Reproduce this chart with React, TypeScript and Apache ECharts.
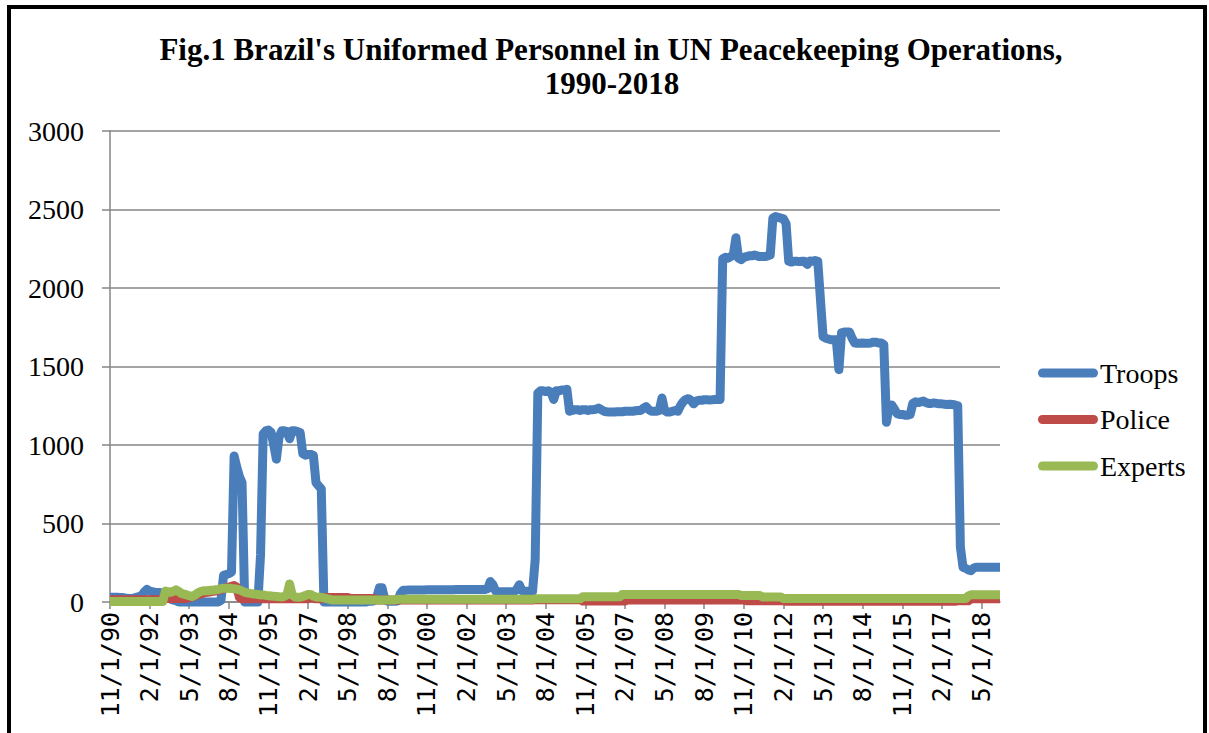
import React, { useEffect, useRef } from "react";
import * as echarts from "echarts";

// Monthly categories: 11/1/90 ... 12/1/18 (338 months)
const START_YEAR = 1990;
const START_MONTH = 11;
const MONTH_COUNT = 338;
const categories: string[] = [];
for (let i = 0; i < MONTH_COUNT; i++) {
  const k = START_MONTH - 1 + i;
  const m = (k % 12) + 1;
  const y = START_YEAR + Math.floor(k / 12);
  categories.push(`${m}/1/${String(y % 100).padStart(2, "0")}`);
}

const yTicks = { min: 0, max: 3000, interval: 500 };

const troops = [
  30, 30, 30, 30, 28, 28, 25, 22, 22, 25,
  30, 35, 40, 65, 80, 70, 65, 62, 60, 60,
  45, 35, 25, 18, 12, 8, 0, 0, 0, 0,
  0, 0, 0, 0, 0, 0, 0, 0, 0, 0,
  0, 0, 10, 170, 175, 180, 190, 930, 860, 800,
  760, 0, 0, 0, 0, 0, 0, 300, 1070, 1090,
  1095, 1080, 1000, 910, 1050, 1090, 1090, 1085, 1040, 1090,
  1090, 1085, 1080, 945, 935, 940, 940, 935, 760, 740,
  720, 0, 0, 0, 0, 0, 0, 0, 0, 0,
  0, 0, 0, 0, 0, 0, 0, 0, 5, 5,
  8, 30, 90, 90, 20, 5, 5, 5, 5, 8,
  55, 75, 75, 76, 76, 76, 77, 77, 77, 77,
  78, 78, 78, 78, 78, 78, 78, 78, 78, 78,
  78, 79, 79, 79, 79, 79, 79, 80, 80, 80,
  80, 80, 80, 85, 130, 110, 70, 66, 66, 66,
  66, 66, 66, 66, 80, 110, 72, 68, 68, 68,
  68, 270, 1330, 1345, 1345, 1340, 1345, 1335, 1290, 1345,
  1345, 1350, 1350, 1355, 1215, 1220, 1225, 1225, 1220, 1225,
  1225, 1220, 1225, 1225, 1228, 1235, 1225, 1215, 1212, 1210,
  1210, 1210, 1212, 1212, 1212, 1215, 1215, 1215, 1215, 1218,
  1220, 1220, 1235, 1245, 1225, 1215, 1215, 1215, 1220, 1300,
  1220, 1210, 1210, 1215, 1220, 1215, 1250, 1275, 1290, 1295,
  1285, 1262, 1280, 1285, 1285, 1288, 1288, 1287, 1288, 1290,
  1290, 1290, 2185, 2195, 2190, 2200, 2210, 2320, 2190, 2180,
  2195, 2200, 2205, 2205, 2210, 2205, 2200, 2200, 2200, 2205,
  2210, 2445, 2455, 2450, 2445, 2440, 2410, 2170, 2165, 2170,
  2170, 2168, 2170, 2170, 2150, 2172, 2170, 2175, 2170, 1930,
  1690, 1680, 1675, 1670, 1670, 1670, 1480, 1715, 1720, 1720,
  1720, 1680, 1650, 1648, 1648, 1650, 1648, 1648, 1650, 1655,
  1655, 1650, 1650, 1640, 1145, 1240, 1255, 1230, 1200, 1195,
  1195, 1190, 1190, 1195, 1265, 1275, 1270, 1275, 1280, 1270,
  1265, 1265, 1268, 1265, 1262, 1262, 1260, 1258, 1260, 1258,
  1255, 1250, 350, 220, 215, 205, 200, 215, 222, 222,
  222, 222, 222, 222, 222, 222, 222, 222,
];

const police = [
  15, 15, 15, 15, 15, 15, 15, 15, 15, 15,
  15, 15, 15, 15, 15, 15, 15, 15, 15, 15,
  22, 22, 22, 22, 22, 22, 22, 22, 22, 22,
  28, 32, 38, 45, 50, 55, 60, 62, 65, 68,
  70, 75, 80, 85, 90, 95, 100, 105, 95, 30,
  20, 20, 20, 20, 20, 20, 20, 20, 20, 20,
  20, 20, 20, 20, 20, 20, 20, 20, 20, 20,
  20, 20, 20, 20, 20, 20, 35, 25, 20, 20,
  20, 28, 28, 28, 28, 28, 28, 28, 28, 28,
  28, 22, 22, 22, 22, 22, 22, 22, 22, 22,
  22, 12, 12, 12, 12, 12, 12, 12, 12, 12,
  12, 12, 12, 12, 12, 12, 12, 12, 12, 12,
  12, 12, 12, 12, 12, 12, 12, 12, 12, 12,
  12, 12, 12, 12, 12, 12, 12, 12, 12, 12,
  12, 12, 12, 12, 12, 12, 12, 12, 12, 12,
  12, 12, 12, 12, 12, 12, 12, 12, 12, 12,
  12, 15, 15, 15, 15, 15, 15, 15, 15, 15,
  15, 15, 15, 15, 15, 15, 15, 15, 15, 6,
  6, 6, 6, 6, 6, 6, 6, 6, 6, 6,
  6, 6, 6, 6, 6, 6, 12, 12, 12, 12,
  12, 12, 12, 12, 12, 12, 12, 12, 12, 12,
  12, 12, 12, 12, 12, 12, 12, 12, 12, 12,
  12, 12, 12, 12, 12, 12, 12, 12, 12, 12,
  12, 12, 12, 12, 12, 12, 12, 12, 12, 12,
  12, 8, 8, 8, 8, 8, 8, 8, 8, 8,
  8, 8, 8, 8, 8, 8, 4, 4, 4, 4,
  4, 4, 4, 4, 4, 4, 4, 4, 4, 4,
  4, 4, 4, 4, 4, 4, 4, 4, 4, 4,
  4, 4, 4, 4, 4, 4, 4, 4, 4, 4,
  4, 4, 4, 4, 4, 4, 4, 4, 4, 4,
  4, 4, 4, 4, 4, 4, 4, 4, 4, 4,
  4, 4, 4, 4, 4, 4, 4, 4, 4, 4,
  4, 8, 8, 8, 8, 8, 20, 20, 20, 20,
  20, 20, 20, 20, 20, 20, 20, 20,
];

const experts = [
  3, 3, 3, 3, 3, 3, 3, 3, 3, 3,
  3, 3, 3, 3, 3, 3, 3, 3, 3, 3,
  3, 70, 65, 62, 68, 78, 68, 55, 50, 45,
  40, 35, 42, 55, 65, 70, 72, 72, 75, 75,
  78, 80, 85, 88, 88, 88, 86, 85, 82, 78,
  70, 62, 58, 55, 52, 50, 48, 45, 45, 42,
  40, 38, 36, 35, 33, 32, 35, 45, 115, 45,
  32, 30, 30, 35, 42, 48, 48, 38, 32, 30,
  30, 26, 22, 18, 13, 13, 13, 13, 13, 13,
  13, 13, 13, 13, 13, 13, 13, 13, 13, 13,
  13, 13, 13, 13, 13, 13, 13, 13, 13, 17,
  17, 17, 17, 17, 17, 17, 17, 17, 17, 17,
  17, 17, 17, 17, 17, 17, 17, 17, 17, 17,
  17, 17, 17, 17, 17, 17, 17, 17, 17, 17,
  17, 17, 17, 17, 17, 17, 17, 17, 17, 17,
  17, 17, 17, 17, 17, 17, 17, 17, 17, 17,
  17, 20, 20, 20, 20, 20, 20, 20, 20, 20,
  20, 20, 20, 20, 20, 20, 20, 20, 20, 33,
  33, 33, 33, 33, 33, 33, 33, 33, 33, 33,
  33, 33, 33, 33, 48, 48, 48, 48, 48, 48,
  48, 48, 48, 48, 48, 48, 48, 48, 48, 48,
  48, 48, 48, 48, 48, 48, 48, 48, 48, 48,
  48, 48, 48, 48, 48, 48, 48, 48, 48, 48,
  48, 48, 48, 48, 48, 48, 48, 48, 48, 42,
  42, 42, 42, 42, 42, 42, 42, 32, 32, 32,
  32, 32, 32, 32, 32, 22, 22, 22, 22, 22,
  22, 22, 22, 22, 22, 22, 22, 22, 22, 22,
  22, 22, 22, 22, 22, 22, 22, 22, 22, 22,
  22, 22, 22, 22, 22, 22, 22, 22, 22, 22,
  22, 22, 22, 22, 22, 22, 22, 22, 22, 22,
  22, 22, 22, 22, 22, 22, 22, 22, 22, 22,
  22, 22, 22, 22, 22, 22, 22, 22, 22, 22,
  22, 22, 22, 22, 22, 38, 46, 46, 46, 46,
  46, 46, 46, 46, 46, 46, 46, 46,
];

const seriesNames = ["Troops", "Police", "Experts"];
const seriesColors = ["#4A7EBB", "#BE4B48", "#98B954"];
const titleLines = [
  "Fig.1 Brazil's Uniformed Personnel in UN Peacekeeping Operations,",
  "1990-2018",
];

const GRAY = "#868686";
const PILL = "path://M4.5,0 H55.5 A4.5,4.5 0 0 1 55.5,9 H4.5 A4.5,4.5 0 0 1 4.5,0 Z";

export default function App() {
  const ref = useRef<HTMLDivElement>(null);

  useEffect(() => {
    document.body.style.margin = "0";
    if (!ref.current) return;
    const chart = echarts.init(ref.current, undefined, { renderer: "svg" });
    const values = [troops, police, experts];
    chart.setOption({
      animation: false,
      backgroundColor: "#ffffff",
      grid: { left: 110, top: 131, right: 209, bottom: 131, containLabel: false },
      graphic: [
        {
          type: "rect",
          silent: true,
          z: 100,
          shape: { x: 9, y: 7, width: 1196, height: 780 },
          style: { fill: "none", stroke: "#000", lineWidth: 4 },
        },
        {
          type: "text",
          x: 611,
          y: 49,
          style: {
            text: titleLines[0],
            fontFamily: "Liberation Serif",
            fontWeight: "bold",
            fontSize: 31,
            align: "center",
            verticalAlign: "middle",
            fill: "#000",
          },
        },
        {
          type: "text",
          x: 612,
          y: 83,
          style: {
            text: titleLines[1],
            fontFamily: "Liberation Serif",
            fontWeight: "bold",
            fontSize: 31,
            align: "center",
            verticalAlign: "middle",
            fill: "#000",
          },
        },
      ],
      legend: {
        orient: "vertical",
        left: 1038,
        top: 359,
        padding: 0,
        itemWidth: 60,
        itemHeight: 9,
        itemGap: 18.5,
        icon: PILL,
        data: seriesNames,
        textStyle: {
          fontFamily: "Liberation Serif",
          fontSize: 28,
          lineHeight: 28,
          color: "#000",
          padding: [0, 0, 0, -3],
        },
      },
      xAxis: {
        type: "category",
        data: categories,
        boundaryGap: false,
        axisLine: { lineStyle: { color: GRAY, width: 1.5 } },
        axisTick: { interval: 14, length: 7, lineStyle: { color: GRAY, width: 1.5 } },
        axisLabel: {
          interval: 14,
          rotate: 90,
          margin: 10,
          fontFamily: "DejaVu Sans Mono",
          fontSize: 25,
          color: "#000",
        },
        splitLine: { show: false },
      },
      yAxis: {
        type: "value",
        min: yTicks.min,
        max: yTicks.max,
        interval: yTicks.interval,
        axisLine: { show: true, lineStyle: { color: GRAY, width: 1.5 } },
        axisTick: { show: true, length: 8, lineStyle: { color: GRAY, width: 1.5 } },
        axisLabel: {
          margin: 26,
          fontFamily: "Liberation Serif",
          fontSize: 28,
          color: "#000",
          formatter: (v: number) => String(v),
        },
        splitLine: { lineStyle: { color: GRAY, width: 1.5 } },
      },
      series: seriesNames.map((name, k) => ({
        name,
        type: "line",
        data: values[k],
        symbol: "none",
        showSymbol: false,
        clip: false,
        color: seriesColors[k],
        itemStyle: { color: seriesColors[k] },
        lineStyle: { width: 9, color: seriesColors[k], join: "round", cap: "butt" },
      })),
    });
    return () => chart.dispose();
  }, []);

  return <div ref={ref} style={{ width: 1209, height: 733 }} />;
}
